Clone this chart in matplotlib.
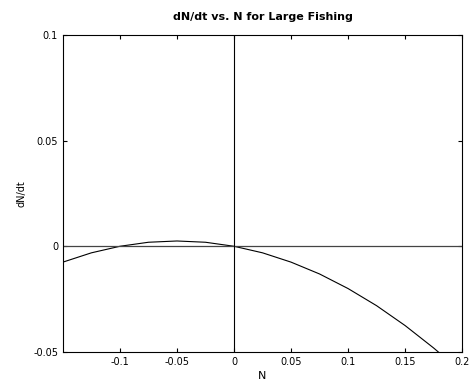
import matplotlib
matplotlib.use('Agg')
import matplotlib.pyplot as plt

# values
n_values = [-0.15, -0.125, -0.1, -0.075, -0.05, -0.025, 0.0, 0.025, 0.05,
            0.075, 0.1, 0.125, 0.15, 0.175, 0.18]
dndt_values = [-0.0075, -0.0031, 0.0, 0.0019, 0.0025, 0.0019, 0.0, -0.0031,
               -0.0075, -0.0131, -0.02, -0.0281, -0.0375, -0.0481, -0.0504]
x_ticks = [-0.1, -0.05, 0, 0.05, 0.1, 0.15, 0.2]
x_labels = ['-0.1', '-0.05', '0', '0.05', '0.1', '0.15', '0.2']
y_ticks = [-0.05, 0, 0.05, 0.1]
y_labels = ['-0.05', '0', '0.05', '0.1']

plt.rcParams['font.family'] = ['DejaVu Sans']

fig = plt.figure(figsize=(4.73, 3.83), dpi=100)
ax = fig.add_axes([0.133, 0.081, 0.844, 0.828])

ax.plot(n_values, dndt_values, color='black', linewidth=0.8)
ax.axhline(0, color='#444444', linewidth=0.9)
ax.axvline(0, color='black', linewidth=0.8)

ax.set_xlim(-0.15, 0.2)
ax.set_ylim(-0.05, 0.1)
ax.set_xticks(x_ticks)
ax.set_xticklabels(x_labels)
ax.set_yticks(y_ticks)
ax.set_yticklabels(y_labels)
ax.tick_params(direction='in', top=True, right=True, labelsize=7, length=3, width=0.8)
for spine in ax.spines.values():
    spine.set_linewidth(0.8)

ax.set_xlabel('N', fontsize=8, labelpad=3)
ax.set_ylabel('dN/dt', fontsize=7)
ax.yaxis.set_label_coords(-0.09, 0.5)
ax.set_title('dN/dt vs. N for Large Fishing', fontsize=8, fontweight='bold', pad=11)

plt.savefig('out.png', dpi=100)
